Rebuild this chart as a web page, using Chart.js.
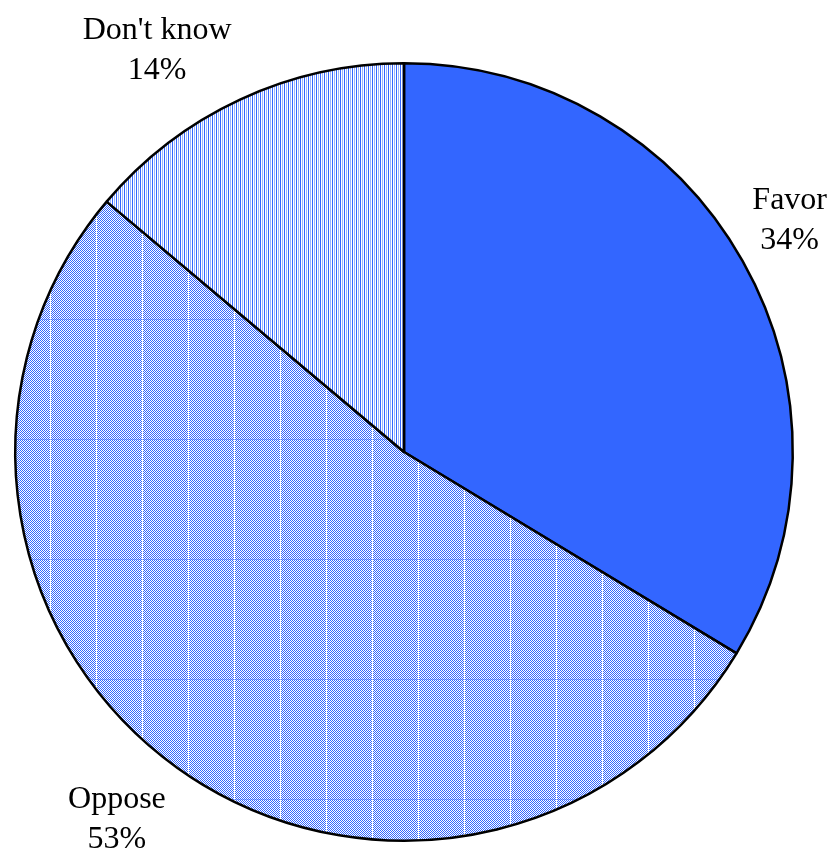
<!DOCTYPE html>
<html>
<head>
<meta charset="utf-8">
<script src="https://cdn.jsdelivr.net/npm/chart.js@4/dist/chart.umd.min.js"></script>
<style>
  html, body { margin: 0; padding: 0; background: #fff; }
  #wrap { width: 835px; height: 864px; }
</style>
</head>
<body>
<div id="wrap"><canvas id="grafica"></canvas></div>
<script>
// datos
let categorias = ['Favor', 'Oppose', "Don't know"];
let porcentajes = [34, 53, 14];

const AZUL = '#3366FF';

// relleno punteado (Oppose)
function tramaPuntos() {
    let c = document.createElement('canvas');
    c.width = 46; c.height = 120;
    let g = c.getContext('2d');
    g.fillStyle = '#fff';
    g.fillRect(0, 0, c.width, c.height);
    g.fillStyle = AZUL;
    for (let y = 0; y < c.height; y++) {
        for (let x = 0; x < c.width; x++) {
            if ((x + y) % 2 === 0) g.fillRect(x, y, 1, 1);
        }
    }
    g.fillStyle = '#fff';
    g.fillRect(4, 0, 1, c.height);
    g.fillStyle = 'rgba(51,102,255,0.4)';
    g.fillRect(0, 79, c.width, 1);
    return g.createPattern(c, 'repeat');
}

// relleno rayado vertical (Don't know)
function tramaRayas() {
    let c = document.createElement('canvas');
    c.width = 4; c.height = 4;
    let g = c.getContext('2d');
    g.fillStyle = '#fff';
    g.fillRect(0, 0, 4, 4);
    g.fillStyle = AZUL;
    g.fillRect(0, 0, 1, 4);
    g.fillStyle = '#99B3FF';
    g.fillRect(2, 0, 1, 4);
    return g.createPattern(c, 'repeat');
}

const etiquetas = {
    id: 'etiquetas',
    afterDatasetsDraw(chart) {
        let ctx = chart.ctx;
        let meta = chart.getDatasetMeta(0);
        ctx.save();
        ctx.font = '32px "Liberation Serif", "Times New Roman", serif';
        ctx.fillStyle = '#000';
        ctx.textAlign = 'center';
        ctx.textBaseline = 'alphabetic';
        meta.data.forEach((arc, i) => {
            let p = arc.getProps(['x', 'y', 'startAngle', 'endAngle', 'outerRadius'], true);
            let mid = (p.startAngle + p.endAngle) / 2;
            let ux = Math.cos(mid), uy = Math.sin(mid);
            let r = p.outerRadius + 20;
            let ax = p.x + r * ux, ay = p.y + r * uy;
            let l1 = categorias[i];
            let l2 = porcentajes[i] + '%';
            let w = Math.max(ctx.measureText(l1).width, ctx.measureText(l2).width);
            let h = 66;
            let cx = ax + Math.sign(ux) * w / 2;
            let cy = ay + Math.sign(uy) * h / 2;
            // mantener dentro del lienzo
            cx = Math.min(cx, chart.width - w / 2 - 8);
            cx = Math.max(cx, w / 2 + 8);
            ctx.fillText(l1, cx, cy - 9);
            ctx.fillText(l2, cx, cy + 31);
        });
        ctx.restore();
    }
};

let ctx = document.getElementById('grafica').getContext('2d');

let torta = new Chart(ctx, {
    type: 'pie',
    data: {
        labels: categorias,
        datasets: [{
            data: porcentajes,
            backgroundColor: [AZUL, tramaPuntos(), tramaRayas()],
            borderColor: '#000',
            borderWidth: 2.5
        }]
    },
    options: {
        responsive: true,
        maintainAspectRatio: false,
        animation: false,
        layout: {
            padding: { left: 14, right: 41, top: 62, bottom: 22 }
        },
        plugins: {
            legend: { display: false },
            tooltip: { enabled: false }
        }
    },
    plugins: [etiquetas]
});
</script>
</body>
</html>
